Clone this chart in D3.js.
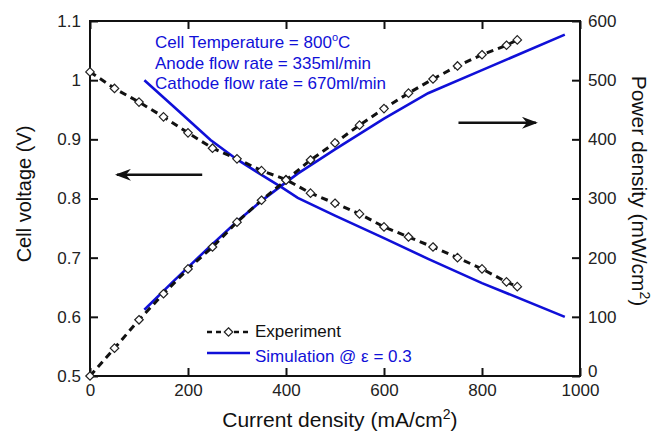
<!DOCTYPE html>
<html>
<head>
<meta charset="utf-8">
<script src="https://cdn.jsdelivr.net/npm/d3@7"></script>
<style>
  body { margin: 0; background: #fff; }
  svg { font-family: "Liberation Sans", Arial, sans-serif; }
</style>
</head>
<body>
<svg width="666" height="435"></svg>
<script>
// experiment (diamonds, dashed)
var currentExp = [0, 50, 100, 150, 200, 250, 300, 350, 400, 450, 500, 550, 600, 650, 700, 750, 800, 850, 872];
var voltageExp = [1.014, 0.986, 0.963, 0.938, 0.911, 0.885, 0.867, 0.847, 0.832, 0.809, 0.792, 0.774, 0.752, 0.735, 0.718, 0.700, 0.681, 0.659, 0.651];
var powerExp = [0, 47, 95, 139, 181, 218, 260, 297, 331, 365, 394, 424, 452, 478, 502, 524, 543, 559, 568];

// simulation (solid blue)
var currentSim = [111, 170, 246, 300, 350, 393, 424, 500, 600, 690, 800, 969];
var voltageSim = [1.0, 0.956, 0.899, 0.866, 0.840, 0.818, 0.801, 0.771, 0.733, 0.698, 0.657, 0.600];
var powerSim = [112, 160, 220, 261, 296, 323, 342, 383, 435, 478, 517, 577];

var xTicks = [0, 200, 400, 600, 800, 1000];
var vTicks = [0.5, 0.6, 0.7, 0.8, 0.9, 1, 1.1];
var pTicks = [0, 100, 200, 300, 400, 500, 600];

var notes = ["Cell Temperature = 800", "Anode flow rate = 335ml/min", "Cathode flow rate = 670ml/min"];

var svg = d3.select("svg"),
  margin = { top: 21, right: 86, bottom: 59, left: 90 },
  width = +svg.attr("width") - margin.left - margin.right,
  height = +svg.attr("height") - margin.top - margin.bottom;

var blue = "#1010d8";

var x = d3.scaleLinear().domain([0, 1000]).range([0, width]);
var yV = d3.scaleLinear().domain([0.5, 1.1]).range([height, 0]);
var yP = d3.scaleLinear().domain([0, 600]).range([height, 0]);

var g = svg.append("g")
  .attr("transform", "translate(" + margin.left + "," + margin.top + ")");

// axes, ticks point inward
g.append("g")
  .attr("transform", "translate(0," + height + ")")
  .call(d3.axisBottom(x).tickValues(xTicks).tickSizeInner(-8).tickSizeOuter(0).tickPadding(8)
    .tickFormat(d3.format("d")));
g.append("g")
  .call(d3.axisTop(x).tickValues(xTicks).tickSizeInner(-8).tickSizeOuter(0).tickFormat(""));
g.append("g")
  .call(d3.axisLeft(yV).tickValues(vTicks).tickSizeInner(-8).tickSizeOuter(0).tickPadding(9)
    .tickFormat(function(d) { return d === 1 ? "1" : d3.format(".1f")(d); }));
var rightAxis = g.append("g")
  .attr("transform", "translate(" + width + ",0)")
  .call(d3.axisRight(yP).tickValues(pTicks).tickSizeInner(-8).tickSizeOuter(0).tickPadding(8));

g.selectAll(".domain").remove();
g.selectAll(".tick line").attr("stroke", "#111").attr("stroke-width", 2);
g.selectAll(".tick text").attr("font-size", 17).attr("fill", "#222")
  .attr("font-family", "Liberation Sans, Arial, sans-serif");
// the right "0" sits a little above the corner, clear of "1000"
rightAxis.selectAll(".tick text")
  .filter(function(d) { return d === 0; })
  .attr("y", -5);

g.append("rect")
  .attr("width", width)
  .attr("height", height)
  .attr("fill", "none")
  .attr("stroke", "#111")
  .attr("stroke-width", 2);

// titles
svg.append("text")
  .attr("x", margin.left + x(510))
  .attr("y", 427)
  .attr("text-anchor", "middle")
  .attr("font-size", 21)
  .attr("fill", "#111")
  .html("Current density (mA/cm<tspan dy='-8' font-size='14'>2</tspan><tspan dy='8'>)</tspan>");

svg.append("text")
  .attr("transform", "translate(31,194) rotate(-90)")
  .attr("text-anchor", "middle")
  .attr("font-size", 20)
  .attr("fill", "#111")
  .text("Cell voltage (V)");

svg.append("text")
  .attr("transform", "translate(632,191) rotate(90)")
  .attr("text-anchor", "middle")
  .attr("font-size", 21)
  .attr("fill", "#111")
  .html("Power density (mW/cm<tspan dy='-8' font-size='14'>2</tspan><tspan dy='8'>)</tspan>");

// lines
var lineV = d3.line()
  .x(function(d) { return x(d[0]); })
  .y(function(d) { return yV(d[1]); });
var lineP = d3.line()
  .x(function(d) { return x(d[0]); })
  .y(function(d) { return yP(d[1]); });

var simV = d3.zip(currentSim, voltageSim);
var simP = d3.zip(currentSim, powerSim);
var expV = d3.zip(currentExp, voltageExp);
var expP = d3.zip(currentExp, powerExp);

[simV, simP].forEach(function(data, i) {
  g.append("path")
    .datum(data)
    .attr("fill", "none")
    .attr("stroke", blue)
    .attr("stroke-width", 2.6)
    .attr("d", i === 0 ? lineV : lineP);
});

[expV, expP].forEach(function(data, i) {
  g.append("path")
    .datum(data)
    .attr("fill", "none")
    .attr("stroke", "#111")
    .attr("stroke-width", 3)
    .attr("stroke-dasharray", "7,5")
    .attr("d", i === 0 ? lineV : lineP);
});

var diamond = d3.symbol().type(d3.symbolDiamond2).size(46);
function drawMarkers(data, yScale) {
  g.selectAll(null)
    .data(data)
    .enter()
    .append("path")
    .attr("d", diamond)
    .attr("transform", function(d) {
      return "translate(" + x(d[0]) + "," + yScale(d[1]) + ")";
    })
    .attr("fill", "#fff")
    .attr("stroke", "#222")
    .attr("stroke-width", 1.2);
}
drawMarkers(expV, yV);
drawMarkers(expP, yP);

// arrows
svg.append("defs").append("marker")
  .attr("id", "head")
  .attr("viewBox", "0 0 16 12")
  .attr("refX", 14)
  .attr("refY", 6)
  .attr("markerWidth", 16)
  .attr("markerHeight", 12)
  .attr("markerUnits", "userSpaceOnUse")
  .attr("orient", "auto")
  .append("path")
  .attr("d", "M0,0 L16,6 L0,12 L5,6 Z")
  .attr("fill", "#111");

g.append("line")
  .attr("x1", x(229)).attr("y1", yV(0.84))
  .attr("x2", x(55)).attr("y2", yV(0.84))
  .attr("stroke", "#111").attr("stroke-width", 2.5)
  .attr("marker-end", "url(#head)");
g.append("line")
  .attr("x1", x(752)).attr("y1", yP(428))
  .attr("x2", x(910)).attr("y2", yP(428))
  .attr("stroke", "#111").attr("stroke-width", 2.5)
  .attr("marker-end", "url(#head)");

// condition notes
var note = g.append("g")
  .attr("fill", blue)
  .attr("font-size", 17);
notes.forEach(function(t, i) {
  var txt = note.append("text")
    .attr("x", 65)
    .attr("y", 27 + i * 20.5)
    .text(t);
  if (i === 0) {
    txt.append("tspan").attr("dy", -7).attr("font-size", 11).text("o");
    txt.append("tspan").attr("dy", 7).text("C");
  }
});

// legend
var legend = g.append("g").attr("font-size", 17);
legend.append("line")
  .attr("x1", 117).attr("x2", 160)
  .attr("y1", 311).attr("y2", 311)
  .attr("stroke", "#111").attr("stroke-width", 2.5)
  .attr("stroke-dasharray", "5,4");
legend.append("path")
  .attr("d", diamond)
  .attr("transform", "translate(138.5,311)")
  .attr("fill", "#fff").attr("stroke", "#222").attr("stroke-width", 1.2);
legend.append("text")
  .attr("x", 165).attr("y", 316)
  .attr("fill", "#111")
  .text("Experiment");
legend.append("line")
  .attr("x1", 117).attr("x2", 160)
  .attr("y1", 332).attr("y2", 332)
  .attr("stroke", blue).attr("stroke-width", 2.6);
legend.append("text")
  .attr("x", 165).attr("y", 341)
  .attr("fill", blue)
  .text("Simulation @ \u03b5 = 0.3");
</script>
</body>
</html>
